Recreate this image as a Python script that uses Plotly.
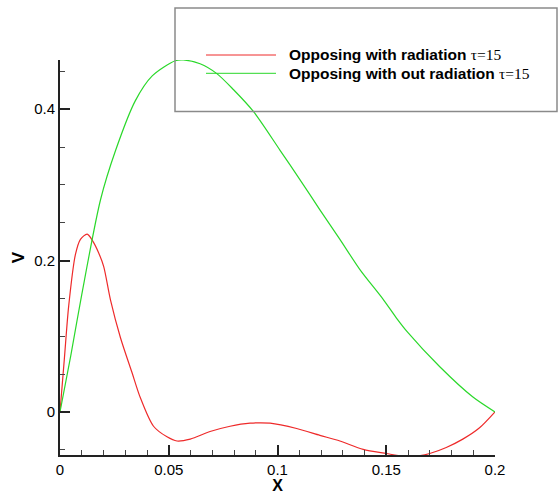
import plotly.graph_objects as go

# ---- data ----
x_rad = [0, 0.002, 0.004, 0.0071, 0.0094, 0.0125, 0.015, 0.0178, 0.0201, 0.0232,
         0.0278, 0.0331, 0.0369, 0.043, 0.0492, 0.0538, 0.0599, 0.069, 0.0782,
         0.0874, 0.0966, 0.1088, 0.1195, 0.1287, 0.1394, 0.1501, 0.1562, 0.165,
         0.17, 0.1776, 0.1852, 0.1929, 0.2]
v_rad = [0, 0.07, 0.14, 0.208, 0.228, 0.235, 0.226, 0.21, 0.192, 0.148,
         0.098, 0.052, 0.019, -0.019, -0.033, -0.0385, -0.036, -0.026, -0.019,
         -0.015, -0.015, -0.022, -0.031, -0.0385, -0.0495, -0.055, -0.058, -0.058,
         -0.055, -0.047, -0.036, -0.021, 0]

x_norad = [0, 0.005, 0.01, 0.0186, 0.0255, 0.0346, 0.0424, 0.053, 0.0567, 0.0644,
           0.0721, 0.0797, 0.0889, 0.1011, 0.1103, 0.1195, 0.1287, 0.1379, 0.1485,
           0.1547, 0.1599, 0.1745, 0.1897, 0.2]
v_norad = [0, 0.075, 0.155, 0.28, 0.345, 0.411, 0.444, 0.464, 0.465, 0.46,
           0.447, 0.426, 0.397, 0.346, 0.307, 0.267, 0.228, 0.188, 0.149,
           0.124, 0.105, 0.06, 0.02, 0]

x_tickvals = [0, 0.05, 0.1, 0.15, 0.2]
x_ticktext = ["0", "0.05", "0.1", "0.15", "0.2"]
y_tickvals = [0, 0.2, 0.4]
y_ticktext = ["0", "0.2", "0.4"]

legend_labels = ["Opposing with radiation", "Opposing with out radiation"]
legend_suffix = "\u03c4=15"
colors = ["#ee2a2a", "#2ad82a"]

FONT = "Liberation Sans, Arial, sans-serif"
SERIF = "Liberation Serif, Times New Roman, serif"

fig = go.Figure()
fig.add_trace(go.Scatter(x=x_rad, y=v_rad, mode="lines",
                         line=dict(color=colors[0], width=1.2, shape="spline", smoothing=0.8),
                         showlegend=False))
fig.add_trace(go.Scatter(x=x_norad, y=v_norad, mode="lines",
                         line=dict(color=colors[1], width=1.2, shape="spline", smoothing=0.8),
                         showlegend=False))

W, H = 560, 494
ml, mr, mt, mb = 60, 65, 60, 39
pw, ph = W - ml - mr, H - mt - mb


def px(xp):
    return (xp - ml) / pw


def py(yp):
    return (H - mb - yp) / ph


# legend box
fig.add_shape(type="rect", xref="paper", yref="paper",
              x0=px(175), x1=px(557), y0=py(111.5), y1=py(8),
              line=dict(color="#8a8a8a", width=1.5), fillcolor="rgba(0,0,0,0)")
for i, (lab, c) in enumerate(zip(legend_labels, colors)):
    yy = 55 + i * 18.3
    fig.add_shape(type="line", xref="paper", yref="paper",
                  x0=px(206), x1=px(276), y0=py(yy), y1=py(yy),
                  line=dict(color=c, width=1))
    fig.add_annotation(xref="paper", yref="paper", x=px(287), y=py(yy),
                       xanchor="left", yanchor="middle", showarrow=False,
                       text="<b>" + lab + "</b> <span style=\"font-family:" + SERIF +
                            "\">" + legend_suffix + "</span>",
                       font=dict(family=FONT, size=15.5, color="black"))

fig.update_layout(
    width=W, height=H, autosize=False,
    margin=dict(l=ml, r=mr, t=mt, b=mb),
    paper_bgcolor="white", plot_bgcolor="white",
    font=dict(family=FONT, size=15, color="black"),
    xaxis=dict(range=[0, 0.2], tickvals=x_tickvals, ticktext=x_ticktext,
               automargin=False,
               showline=True, linewidth=2, linecolor="#222",
               ticks="inside", ticklen=10, tickwidth=2, tickcolor="#222",
               minor=dict(dtick=0.01, tick0=0, ticks="inside", ticklen=5,
                          tickwidth=1, tickcolor="#444"),
               showgrid=False, zeroline=False,
               tickfont=dict(size=15),
               title=dict(text="<b>X</b>", font=dict(size=16), standoff=8)),
    yaxis=dict(range=[-0.057, 0.465], tickvals=y_tickvals, ticktext=y_ticktext,
               automargin=False,
               showline=True, linewidth=2, linecolor="#222",
               ticks="inside", ticklen=10, tickwidth=2, tickcolor="#222",
               minor=dict(dtick=0.05, tick0=0, ticks="inside", ticklen=5,
                          tickwidth=1, tickcolor="#444"),
               showgrid=False, zeroline=False,
               tickfont=dict(size=15),
               title=dict(text="<b>V</b>", font=dict(size=17), standoff=5)),
)

fig.write_html("out.html")
